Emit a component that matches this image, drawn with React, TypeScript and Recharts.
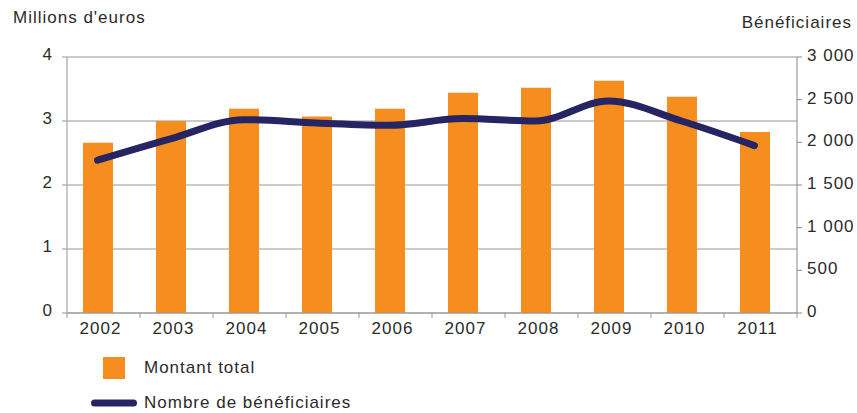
import React from 'react';
import { ComposedChart, Bar, Line, XAxis, YAxis, CartesianGrid } from 'recharts';

const years = ['2002', '2003', '2004', '2005', '2006', '2007', '2008', '2009', '2010', '2011'];
const montantTotal = [2.66, 3.0, 3.19, 3.07, 3.19, 3.44, 3.52, 3.63, 3.38, 2.83];
const beneficiaires = [1790, 2040, 2266, 2227, 2200, 2278, 2250, 2485, 2250, 1962];
const leftTicks = [0, 1, 2, 3, 4];
const rightTicks = [0, 500, 1000, 1500, 2000, 2500, 3000];

const data = years.map((year, i) => ({
    year,
    montant: montantTotal[i],
    beneficiaires: beneficiaires[i],
}));

const ORANGE = '#F68E1F';
const NAVY = '#272463';
const FONT = '"Liberation Sans", Arial, Helvetica, sans-serif';
const TEXT = '#2b2b2b';
// the source draws its bars a little left of the category centres
const SHIFT = 6;

const formatThousands = (v: number) => (v >= 1000 ? `${Math.floor(v / 1000)} ${String(v % 1000).padStart(3, '0')}` : String(v));

const YearTick = ({ x, y, payload, index }: any) => {
    const half = payload && typeof payload.offset === 'number' ? payload.offset : 36.5;
    const cx = x + SHIFT;
    return (
        <g>
            <line x1={cx - half} x2={cx - half} y1={y - 9} y2={y - 4} stroke="#999" />
            {index === years.length - 1 && <line x1={cx + half} x2={cx + half} y1={y - 9} y2={y - 4} stroke="#999" />}
            <text x={cx - 3} y={y} dy="0.71em" textAnchor="middle" fill={TEXT} fontSize={17} letterSpacing={1} fontFamily={FONT}>
                {payload.value}
            </text>
        </g>
    );
};

export default function App() {
    return (
        <div style={{ position: 'absolute', left: 0, top: 0, width: 857, height: 413, background: '#fff', fontFamily: FONT, color: TEXT }}>
            <div style={{ position: 'absolute', left: 13, top: 8, fontSize: 17, letterSpacing: 1, whiteSpace: 'nowrap' }}>Millions d'euros</div>
            <div style={{ position: 'absolute', right: 5, top: 13, fontSize: 17, letterSpacing: 1, whiteSpace: 'nowrap' }}>Bénéficiaires</div>

            <ComposedChart width={857} height={413} data={data} margin={{ top: 57, right: 0, bottom: 70, left: 0 }}>
                <CartesianGrid vertical={false} yAxisId="left" stroke="#b8b8b8" strokeWidth={1.5} />
                <XAxis
                    dataKey="year"
                    height={30}
                    padding={{ left: -SHIFT, right: SHIFT }}
                    axisLine={{ stroke: '#999' }}
                    tickLine={false}
                    tickSize={5}
                    tickMargin={4}
                    tick={<YearTick />}
                    interval={0}
                />
                <YAxis
                    yAxisId="left"
                    orientation="left"
                    width={67}
                    domain={[0, 4]}
                    ticks={leftTicks}
                    axisLine={{ stroke: '#b8b8b8', strokeWidth: 1.5 }}
                    tickLine={{ stroke: '#999' }}
                    tickSize={5}
                    tickMargin={9}
                    tick={{ fill: TEXT, fontSize: 17, fontFamily: FONT, letterSpacing: 1, dy: -3 }}
                />
                <YAxis
                    yAxisId="right"
                    orientation="right"
                    width={60}
                    domain={[0, 3000]}
                    ticks={rightTicks}
                    tickFormatter={formatThousands}
                    axisLine={{ stroke: '#888' }}
                    tickLine={{ stroke: '#888' }}
                    tickSize={5}
                    tickMargin={5}
                    tick={{ fill: TEXT, fontSize: 17, fontFamily: FONT, letterSpacing: 1, dy: -2 }}
                />
                <Bar yAxisId="left" dataKey="montant" fill={ORANGE} barSize={30} isAnimationActive={false} />
                <Line
                    yAxisId="right"
                    type="monotone"
                    dataKey="beneficiaires"
                    stroke={NAVY}
                    strokeWidth={7}
                    strokeLinecap="round"
                    dot={false}
                    activeDot={false}
                    isAnimationActive={false}
                />
            </ComposedChart>

            <div style={{ position: 'absolute', left: 103, top: 357, width: 22, height: 22, background: ORANGE }} />
            <div style={{ position: 'absolute', left: 144, top: 357, fontSize: 17, letterSpacing: 1, lineHeight: '22px', whiteSpace: 'nowrap' }}>Montant total</div>
            <svg style={{ position: 'absolute', left: 86, top: 395 }} width={56} height={16}>
                <line x1={8.5} y1={8} x2={47.5} y2={8} stroke={NAVY} strokeWidth={7} strokeLinecap="round" />
            </svg>
            <div style={{ position: 'absolute', left: 144, top: 392, fontSize: 17, letterSpacing: 1, lineHeight: '22px', whiteSpace: 'nowrap' }}>Nombre de bénéficiaires</div>
        </div>
    );
}
